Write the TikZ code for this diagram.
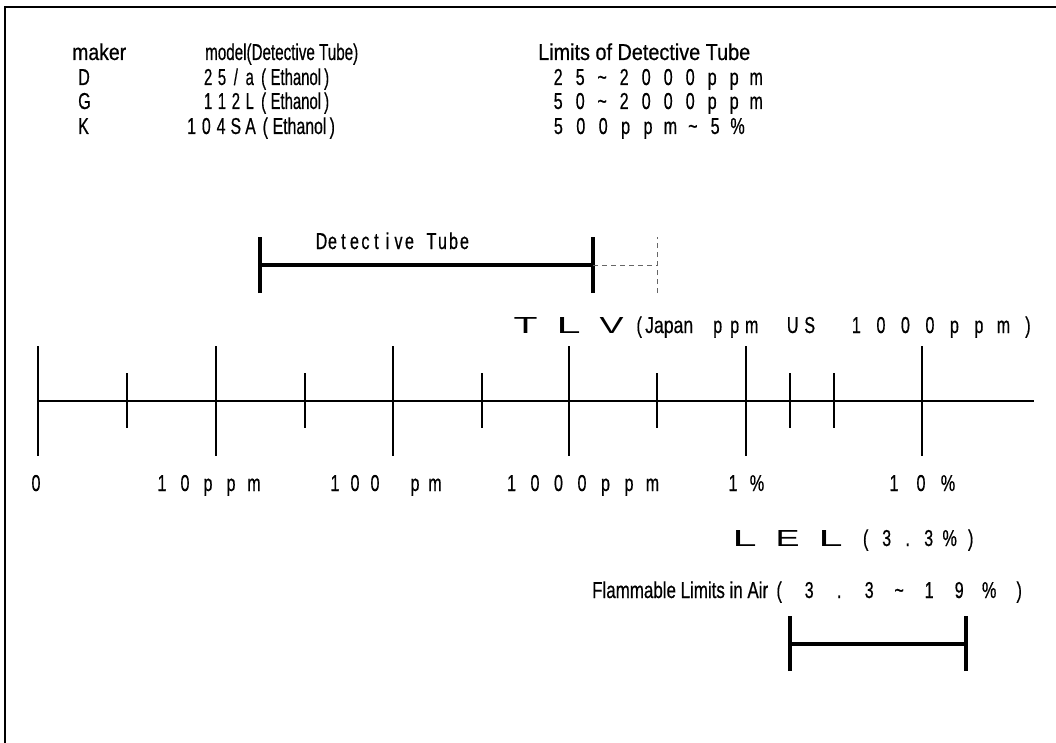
\documentclass[tikz,border=0pt]{standalone}
\usepackage{fontspec}
\usepackage{graphicx}
\setmainfont{Liberation Sans}
\newfontfamily\nf[FakeStretch=0.7,FakeBold=0.5]{Liberation Sans}
\newfontfamily\wf{Liberation Sans}
\newcommand\fitw[2]{\resizebox{#1}{\height}{#2}}
\newcommand\spc[2]{\def\spcw{#1}\spcloop#2\relax}
\def\spcloop#1{\ifx#1\relax\else\makebox[\spcw][c]{#1}\expandafter\spcloop\fi}
\def\tld{\char"7E\relax}
\def\blk{\hphantom{0}}
\newcommand\bigletter[1]{\makebox[43pt][c]{\resizebox{24pt}{16pt}{\wf #1}}}
\begin{document}
\begin{tikzpicture}[x=1pt,y=-1pt,
  txt/.style={anchor=base west,inner sep=0pt,font=\nf\fontsize{23}{25}\selectfont},
  ctxt/.style={anchor=base,inner sep=0pt,font=\nf\fontsize{23}{25}\selectfont},
  frame/.style={line width=2.2pt},
  axisline/.style={line width=2.6pt},
  major/.style={line width=2.2pt},
  minor/.style={line width=1.8pt},
  rangebar/.style={line width=3.4pt},
  extend/.style={line width=0.9pt,black!60,dash pattern=on 5pt off 4pt}]
\useasboundingbox (0,0) rectangle (1056,743);
\fill[white] (0,0) rectangle (1056,743);
% frame (top and left edges only visible)
\coordinate (fB) at (5,743);
\coordinate (fC) at (5,7);
\coordinate (fR) at (1056,7);
\draw[frame] (fB) -- (fC) -- (fR);
% header table
\node[txt] (hmaker) at (72,60) {\fitw{54pt}{maker}};
\node[txt] (hmodel) at (205,60) {\fitw{153pt}{model(Detective Tube)}};
\node[txt] (hlimit) at (538,60) {\fitw{212pt}{Limits of Detective Tube}};
\node[txt] (mD) at (78,85) {D};
\node[txt] (mG) at (78,109) {G};
\node[txt] (mK) at (78,134) {K};
\node[txt] (tD) at (201,85) {\fitw{131pt}{\spc{15pt}{25/a(}Ethanol\spc{12pt}{)}}};
\node[txt] (tG) at (201,109) {\fitw{131pt}{\spc{15pt}{112L(}Ethanol\spc{12pt}{)}}};
\node[txt] (tK) at (184,134) {\fitw{154pt}{\spc{15pt}{104SA(}Ethanol\spc{12pt}{)}}};
\node[txt] (lD) at (547,85) {\spc{22pt}{25\tld2000ppm}};
\node[txt] (lG) at (547,109) {\spc{22pt}{50\tld2000ppm}};
\node[txt] (lK) at (547,134) {\spc{22.4pt}{500ppm\tld5\%}};
% detective tube range
\coordinate (dtL) at (260,265);
\coordinate (dtR) at (593,265);
\coordinate (dtX) at (657,265);
\draw[rangebar] (dtL) -- (dtR);
\draw[rangebar] ([yshift=-28pt]dtL) -- ([yshift=28pt]dtL);
\draw[rangebar] ([yshift=-28pt]dtR) -- ([yshift=28pt]dtR);
\draw[extend] (dtR) -- (dtX);
\draw[extend] ([yshift=-28pt]dtX) -- ([yshift=28pt]dtX);
\node[ctxt] (dtlabel) at (393,249) {\spc{11pt}{Detective\blk Tube}};
% TLV
\node[txt] (tlv) at (504,333) {\bigletter{T}\bigletter{L}\bigletter{V}\makebox[12pt][c]{(}\fitw{48pt}{Japan}\hspace{16pt}\spc{17pt}{ppm}\hspace{24pt}\spc{17pt}{US}\hspace{26pt}\spc{24.5pt}{1000ppm)}};
% axis
\coordinate (axL) at (38,401);
\coordinate (axR) at (1034,401);
\draw[axisline] (axL) -- (axR);
\foreach \x in {38,216,393,569,746,922}
  \draw[major] (\x,346) -- (\x,456);
\foreach \x in {127,305,482,657,834}
  \draw[minor] (\x,373) -- (\x,428);
\draw[major,line width=2.8pt] (790,373) -- (790,428);
\draw[major,line width=2.8pt] (569,373) -- (569,428);
% axis labels
\node[ctxt] (l0) at (36,491) {0};
\node[ctxt] (l10) at (208,491) {\spc{23pt}{10ppm}};
\node[ctxt] (l100) at (385,491) {\spc{20pt}{100\blk pm}};
\node[ctxt] (l1000) at (582,491) {\spc{23.5pt}{1000ppm}};
\node[ctxt] (l1p) at (745,491) {\spc{24pt}{1\%}};
\node[ctxt] (l10p) at (921,491) {\spc{27pt}{10\%}};
% LEL
\node[txt] (lel) at (723,546) {\bigletter{L}\bigletter{E}\bigletter{L}\hspace{3pt}\spc{21pt}{(3.3\%)}};
% flammable range
\node[txt] (flam) at (592,598) {\fitw{176pt}{Flammable Limits in Air}\hspace{-4pt}\spc{30pt}{(3.3\tld19\%)}};
\coordinate (flL) at (790,644);
\coordinate (flR) at (966,644);
\draw[rangebar] (flL) -- (flR);
\draw[rangebar] ([yshift=-27pt]flL) -- ([yshift=28pt]flL);
\draw[rangebar] ([yshift=-27pt]flR) -- ([yshift=28pt]flR);
\end{tikzpicture}
\end{document}
